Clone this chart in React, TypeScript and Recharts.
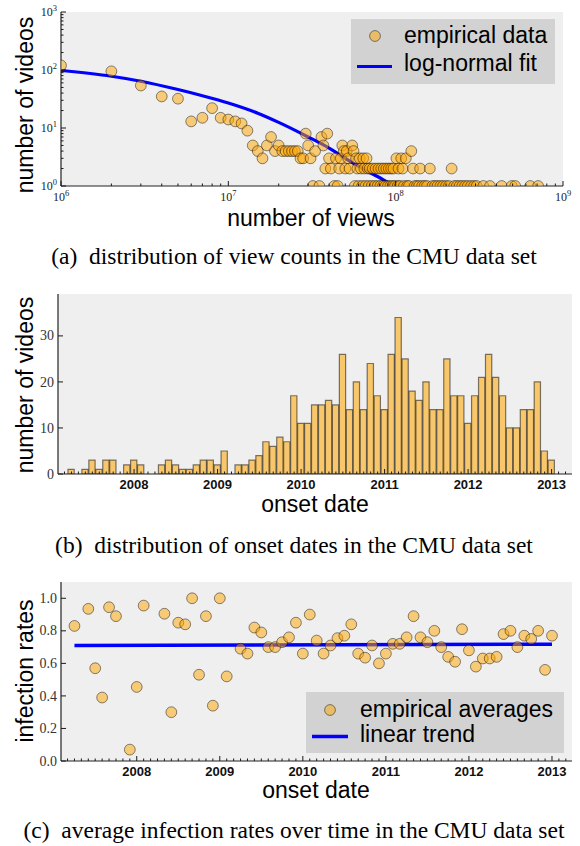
import React from 'react';
import { ComposedChart, Scatter, Line, Bar, XAxis, YAxis, CartesianGrid } from 'recharts';

// ---------------- (a) distribution of view counts ----------------
const viewBinsMillions = [
  1, 2, 3, 4, 5, 6, 7, 8, 9, 10, 11, 12, 13, 14, 15, 16, 17, 18, 19, 20,
  21, 22, 23, 24, 25, 26, 27, 28, 29, 30, 31, 32, 33, 35, 36, 37, 38, 39, 40, 41,
  43, 44, 45, 46, 47, 48, 49, 50, 51, 52, 53, 55, 56, 57, 58, 59, 60, 61, 62, 63,
  64, 65, 66, 67, 68, 69, 70, 72, 73, 75, 76, 78, 79, 81, 82, 84, 85, 87, 88, 90,
  91, 93, 94, 96, 97, 99, 101, 103, 104, 106, 108, 110, 112, 115, 117, 120, 124, 127, 130, 134,
  138, 140, 144, 149, 154, 160, 166, 172, 178, 185, 192, 200, 208, 216, 224, 232, 241, 250, 260, 270,
  282, 294, 305, 334, 366, 430, 494, 518, 637, 710,
];
const videosPerViewBin = [
  120, 95, 54, 35, 32, 13, 15, 22, 15, 14, 13, 12, 9, 5, 4, 3, 5, 7, 4, 5,
  4, 4, 4, 4, 4, 4, 3, 3, 8, 5, 3, 1, 4, 1, 7, 5, 2, 8, 3, 2,
  1, 3, 1, 2, 3, 5, 4, 2, 4, 3, 2, 5, 4, 1, 3, 2, 1, 3, 2, 1,
  3, 2, 1, 3, 2, 1, 2, 1, 2, 1, 2, 1, 2, 1, 2, 1, 2, 1, 2, 1,
  2, 1, 2, 1, 2, 1, 3, 1, 2, 1, 3, 2, 1, 3, 1, 1, 4, 2, 1, 1,
  1, 2, 1, 1, 1, 2, 1, 1, 1, 1, 1, 1, 1, 2, 1, 1, 1, 1, 1, 1,
  1, 1, 1, 1, 1, 1, 1, 1, 1, 1,
];
const fitViewsMillions = [1, 2, 3, 5, 7, 10, 15, 20, 30, 40, 50, 60, 70, 80, 90, 100];
const fitVideos = [98, 78, 64, 46, 36, 27, 18, 12.5, 7, 4.5, 3.0, 2.2, 1.7, 1.4, 1.15, 1.0];
const viewDecades = [6, 7, 8, 9];
const videoDecades = [0, 1, 2, 3];

// ---------------- (b) distribution of onset dates ----------------
const onsetMonths = [
  '2007-03', '2007-04', '2007-05', '2007-06', '2007-07', '2007-08', '2007-09', '2007-10', '2007-11', '2007-12',
  '2008-01', '2008-02', '2008-03', '2008-04', '2008-05', '2008-06', '2008-07', '2008-08', '2008-09', '2008-10', '2008-11', '2008-12',
  '2009-01', '2009-02', '2009-03', '2009-04', '2009-05', '2009-06', '2009-07', '2009-08', '2009-09', '2009-10', '2009-11', '2009-12',
  '2010-01', '2010-02', '2010-03', '2010-04', '2010-05', '2010-06', '2010-07', '2010-08', '2010-09', '2010-10', '2010-11', '2010-12',
  '2011-01', '2011-02', '2011-03', '2011-04', '2011-05', '2011-06', '2011-07', '2011-08', '2011-09', '2011-10', '2011-11', '2011-12',
  '2012-01', '2012-02', '2012-03', '2012-04', '2012-05', '2012-06', '2012-07', '2012-08', '2012-09', '2012-10', '2012-11', '2012-12',
  '2013-01', '2013-02', '2013-03',
];
const videosPerMonth = [
  0, 1, 0, 1, 3, 1, 3, 3, 0, 2,
  3, 2, 0, 0, 2, 3, 2, 1, 1, 2, 3, 3,
  2, 5, 0, 2, 2, 3, 4, 7, 6, 8, 7, 17,
  11, 11, 15, 15, 16, 15, 26, 14, 20, 14, 24, 17,
  14, 26, 34, 25, 18, 16, 20, 14, 14, 25, 17, 17,
  11, 17, 21, 26, 21, 17, 10, 10, 14, 14, 20, 5,
  3, 0, 0,
];
const countTicks = [0, 10, 20, 30];

// ---------------- (c) average infection rates ----------------
const rateMonths = [
  '2007-04', '2007-06', '2007-07', '2007-08', '2007-09', '2007-10', '2007-12',
  '2008-01', '2008-02', '2008-05', '2008-06', '2008-07', '2008-08', '2008-09', '2008-10', '2008-11', '2008-12',
  '2009-01', '2009-02', '2009-04', '2009-05', '2009-06', '2009-07', '2009-08', '2009-09', '2009-10', '2009-11', '2009-12',
  '2010-01', '2010-02', '2010-03', '2010-04', '2010-05', '2010-06', '2010-07', '2010-08', '2010-09', '2010-10', '2010-11', '2010-12',
  '2011-01', '2011-02', '2011-03', '2011-04', '2011-05', '2011-06', '2011-07', '2011-08', '2011-09', '2011-10', '2011-11', '2011-12',
  '2012-01', '2012-02', '2012-03', '2012-04', '2012-05', '2012-06', '2012-07', '2012-08', '2012-09', '2012-10', '2012-11', '2012-12',
  '2013-01',
];
const infectionRates = [
  0.83, 0.935, 0.57, 0.39, 0.945, 0.89, 0.07,
  0.455, 0.955, 0.905, 0.30, 0.85, 0.84, 1.0, 0.53, 0.89, 0.34,
  1.0, 0.52, 0.69, 0.66, 0.82, 0.79, 0.70, 0.70, 0.73, 0.76, 0.85,
  0.66, 0.90, 0.74, 0.66, 0.71, 0.755, 0.77, 0.84, 0.66, 0.635, 0.71, 0.60,
  0.66, 0.72, 0.72, 0.76, 0.89, 0.76, 0.73, 0.80, 0.70, 0.64, 0.61, 0.81,
  0.68, 0.58, 0.63, 0.63, 0.64, 0.78, 0.80, 0.70, 0.77, 0.75, 0.80, 0.56,
  0.77,
];
const trendMonths = ['2007-04', '2013-01'];
const trendRates = [0.71, 0.718];
const rateTicks = [0, 0.2, 0.4, 0.6, 0.8, 1.0];

// ---------------- helpers ----------------
const SANS = '"Liberation Sans", Arial, Helvetica, sans-serif';
const SERIF = '"Liberation Serif", "Times New Roman", serif';
const INK = '#1a1a1a';
const FRAME = { stroke: '#222', strokeWidth: 1.2 };
const BLUE = '#0000ff';

const toYear = (s: string) => {
  const [y, m] = s.split('-').map(Number);
  return y + (m - 1) / 12;
};

const logTicks = (decades: number[]) => {
  const out: number[] = [];
  for (let i = 0; i < decades.length - 1; i++) {
    for (let k = 1; k < 10; k++) out.push(k * Math.pow(10, decades[i]));
  }
  out.push(Math.pow(10, decades[decades.length - 1]));
  return out;
};
const isPow10 = (v: number) => {
  const e = Math.round(Math.log10(v));
  return Math.abs(v / Math.pow(10, e) - 1) < 1e-9;
};

const viewData = viewBinsMillions.map((m, i) => ({ views: m * 1e6, videos: videosPerViewBin[i] }));
const fitData = fitViewsMillions.map((m, i) => ({ views: m * 1e6, videos: fitVideos[i] }));
const viewTicks = logTicks(viewDecades);
const videoTicks = logTicks(videoDecades);

const onsetData = onsetMonths.map((m, i) => ({ month: m, videos: videosPerMonth[i] }));

const rateData = rateMonths.map((m, i) => ({ t: toYear(m), rate: infectionRates[i] }));
const trendData = trendMonths.map((m, i) => ({ t: toYear(m), rate: trendRates[i] }));
const monthTicks: number[] = [];
for (let i = 0; i <= 72; i++) {
  const n = 2 + i;
  monthTicks.push(2007 + Math.floor(n / 12) + (n % 12) / 12);
}
const isYear = (v: number) => Math.abs(v - Math.round(v)) < 1e-6;

const dotProps = { r: 5.4, fill: 'orange', fillOpacity: 0.5, stroke: '#000', strokeOpacity: 0.45, strokeWidth: 1 };
const Dot = (p: any) => <circle cx={p.cx} cy={p.cy} {...dotProps} />;
const ClippedDotA = (p: any) => <circle cx={p.cx} cy={p.cy} {...dotProps} clipPath="url(#plotClipA)" />;

// log axis ticks (a)
const LogXBottomTick = (p: any) => {
  const v = p.payload.value;
  const major = isPow10(v);
  const e = Math.round(Math.log10(v));
  return (
    <g>
      <line x1={p.x} x2={p.x} y1={p.y} y2={p.y - (major ? 5 : 2.5)} stroke={INK} strokeWidth={1} />
      {major && (
        <text x={p.x} y={p.y + 15} textAnchor="middle" fontFamily={SERIF} fontSize={12} fill="#222">
          10<tspan dy={-5} fontSize={8.5}>{e}</tspan>
        </text>
      )}
    </g>
  );
};
const LogXTopTick = (p: any) => {
  const major = isPow10(p.payload.value);
  return <line x1={p.x} x2={p.x} y1={p.y} y2={p.y + (major ? 5 : 2.5)} stroke={INK} strokeWidth={1} />;
};
const LogYLeftTick = (p: any) => {
  const v = p.payload.value;
  const major = isPow10(v);
  const e = Math.round(Math.log10(v));
  return (
    <g>
      <line x1={p.x} x2={p.x + (major ? 5 : 2.5)} y1={p.y} y2={p.y} stroke={INK} strokeWidth={1} />
      {major && (
        <text x={p.x - 4} y={p.y + 4} textAnchor="end" fontFamily={SERIF} fontSize={12} fill="#222">
          10<tspan dy={-5} fontSize={8.5}>{e}</tspan>
        </text>
      )}
    </g>
  );
};
const LogYRightTick = (p: any) => {
  const major = isPow10(p.payload.value);
  return <line x1={p.x} x2={p.x - (major ? 5 : 2.5)} y1={p.y} y2={p.y} stroke={INK} strokeWidth={1} />;
};

// month axis ticks (b)
const MonthBottomTick = (p: any) => {
  const [yr, mo] = String(p.payload.value).split('-');
  const major = mo === '01';
  return (
    <g>
      <line x1={p.x} x2={p.x} y1={p.y} y2={p.y - (major ? 5 : 2.5)} stroke={INK} strokeWidth={1} />
      {major && (
        <text x={p.x} y={p.y + 14.5} textAnchor="middle" fontFamily={SANS} fontWeight="bold" fontSize={13} fill="#111">
          {yr}
        </text>
      )}
    </g>
  );
};
const MonthTopTick = (p: any) => {
  const mo = String(p.payload.value).split('-')[1];
  const major = mo === '01';
  return <line x1={p.x} x2={p.x} y1={p.y} y2={p.y + (major ? 5 : 2.5)} stroke={INK} strokeWidth={1} />;
};

// year axis ticks (c)
const YearBottomTick = (p: any) => {
  const v = p.payload.value;
  const major = isYear(v);
  return (
    <g>
      <line x1={p.x} x2={p.x} y1={p.y} y2={p.y - (major ? 5 : 2.5)} stroke={INK} strokeWidth={1} />
      {major && (
        <text x={p.x} y={p.y + 14.5} textAnchor="middle" fontFamily={SANS} fontWeight="bold" fontSize={13} fill="#111">
          {String(Math.round(v))}
        </text>
      )}
    </g>
  );
};
const YearTopTick = (p: any) => {
  const major = isYear(p.payload.value);
  return <line x1={p.x} x2={p.x} y1={p.y} y2={p.y + (major ? 5 : 2.5)} stroke={INK} strokeWidth={1} />;
};

const makeLinLeftTick = (fmt: (v: number) => string) => (p: any) => (
  <g>
    <line x1={p.x} x2={p.x + 5} y1={p.y} y2={p.y} stroke={INK} strokeWidth={1} />
    <text x={p.x - 4} y={p.y + 4.6} textAnchor="end" fontFamily={SERIF} fontSize={14} fill="#333">
      {fmt(p.payload.value)}
    </text>
  </g>
);
const LinRightTick = (p: any) => (
  <line x1={p.x} x2={p.x - 5} y1={p.y} y2={p.y} stroke={INK} strokeWidth={1} />
);
const CountLeftTick = makeLinLeftTick((v) => String(v));
const RateLeftTick = makeLinLeftTick((v) => v.toFixed(1));

const axisCommon = { tickLine: false, tickSize: 0, tickMargin: 0, interval: 0 as const, axisLine: FRAME };

const titleStyle = { fontFamily: SANS, fontSize: 23, fill: '#000' };
const captionStyle = { fontFamily: SERIF, fontSize: 23.5, fill: '#000', whiteSpace: 'pre' as const };
const legendStyle = { fontFamily: SANS, fontSize: 23, fill: '#000' };

export default function App() {
  return (
    <div style={{ position: 'absolute', left: 0, top: 0, width: 580, height: 846, background: '#fff' }}>
      <svg width={0} height={0} style={{ position: 'absolute' }}>
        <defs>
          <clipPath id="plotClipA" clipPathUnits="userSpaceOnUse">
            <rect x={61} y={12} width={502} height={174} />
          </clipPath>
        </defs>
      </svg>

      {/* (a) */}
      <div style={{ position: 'absolute', left: 0, top: 0 }}>
        <ComposedChart width={580} height={240} margin={{ top: 12, right: 17, bottom: 0, left: 0 }}>
          <CartesianGrid fill="#efefef" stroke="none" horizontal={false} vertical={false} />
          <XAxis xAxisId="b" dataKey="views" type="number" scale="log" domain={[1e6, 1e9]} allowDataOverflow ticks={viewTicks} height={54} tick={LogXBottomTick} {...axisCommon} />
          <XAxis xAxisId="t" orientation="top" dataKey="views" type="number" scale="log" domain={[1e6, 1e9]} allowDataOverflow ticks={viewTicks} height={0} tick={LogXTopTick} {...axisCommon} />
          <YAxis yAxisId="l" dataKey="videos" type="number" scale="log" domain={[1, 1000]} allowDataOverflow ticks={videoTicks} width={61} tick={LogYLeftTick} {...axisCommon} />
          <YAxis yAxisId="r" orientation="right" dataKey="videos" type="number" scale="log" domain={[1, 1000]} allowDataOverflow ticks={videoTicks} width={0} tick={LogYRightTick} {...axisCommon} />
          <Scatter xAxisId="b" yAxisId="l" data={viewData} shape={ClippedDotA} isAnimationActive={false} />
          <Line xAxisId="b" yAxisId="l" data={fitData} dataKey="videos" type="monotone" stroke={BLUE} strokeWidth={3.2} dot={false} activeDot={false} isAnimationActive={false} />
        </ComposedChart>
      </div>

      {/* (b) */}
      <div style={{ position: 'absolute', left: 0, top: 280 }}>
        <ComposedChart width={580} height={240} data={onsetData} margin={{ top: 14, right: 8, bottom: 0, left: 0 }} barCategoryGap={0} barGap={0}>
          <CartesianGrid fill="#efefef" stroke="none" horizontal={false} vertical={false} />
          <XAxis xAxisId="b" dataKey="month" type="category" padding={{ left: 3, right: 3 }} height={46} tick={MonthBottomTick} {...axisCommon} />
          <XAxis xAxisId="t" orientation="top" dataKey="month" type="category" padding={{ left: 3, right: 3 }} height={0} tick={MonthTopTick} {...axisCommon} />
          <YAxis yAxisId="l" type="number" domain={[0, 39.1]} allowDataOverflow ticks={countTicks} width={58} tick={CountLeftTick} {...axisCommon} />
          <YAxis yAxisId="r" orientation="right" type="number" domain={[0, 39.1]} allowDataOverflow ticks={countTicks.slice(1)} width={0} tick={LinRightTick} {...axisCommon} />
          <Bar xAxisId="b" yAxisId="l" dataKey="videos" barSize={7} fill="orange" fillOpacity={0.55} stroke="#000" strokeOpacity={0.5} strokeWidth={1.2} isAnimationActive={false} />
        </ComposedChart>
      </div>

      {/* (c) */}
      <div style={{ position: 'absolute', left: 0, top: 565 }}>
        <ComposedChart width={580} height={235} margin={{ top: 17, right: 8, bottom: 0, left: 0 }}>
          <CartesianGrid fill="#efefef" stroke="none" horizontal={false} vertical={false} />
          <XAxis xAxisId="b" dataKey="t" type="number" domain={[2007.088, 2013.241]} allowDataOverflow ticks={monthTicks} height={39} tick={YearBottomTick} {...axisCommon} />
          <XAxis xAxisId="t" orientation="top" dataKey="t" type="number" domain={[2007.088, 2013.241]} allowDataOverflow ticks={monthTicks} height={0} tick={YearTopTick} {...axisCommon} />
          <YAxis yAxisId="l" dataKey="rate" type="number" domain={[0, 1.1]} allowDataOverflow ticks={rateTicks} width={61} tick={RateLeftTick} {...axisCommon} />
          <YAxis yAxisId="r" orientation="right" dataKey="rate" type="number" domain={[0, 1.1]} allowDataOverflow ticks={rateTicks.slice(1)} width={0} tick={LinRightTick} {...axisCommon} />
          <Scatter xAxisId="b" yAxisId="l" data={rateData} shape={Dot} isAnimationActive={false} />
          <Line xAxisId="b" yAxisId="l" data={trendData} dataKey="rate" type="linear" stroke={BLUE} strokeWidth={3.5} dot={false} activeDot={false} isAnimationActive={false} />
        </ComposedChart>
      </div>

      {/* titles, legends, captions */}
      <svg width={580} height={846} style={{ position: 'absolute', left: 0, top: 0, pointerEvents: 'none' }}>
        {/* (a) */}
        <text x={311} y={226} textAnchor="middle" style={titleStyle}>number of views</text>
        <text x={33} y={105} textAnchor="middle" transform="rotate(-90 33 105)" style={titleStyle}>number of videos</text>
        <rect x={351} y={19} width={204} height={65} fill="#d2d2d2" />
        <circle cx={375} cy={36} {...dotProps} />
        <text x={404} y={43} style={legendStyle}>empirical data</text>
        <line x1={357} x2={392} y1={66.5} y2={66.5} stroke={BLUE} strokeWidth={3} />
        <text x={404} y={71} style={legendStyle}>log-normal fit</text>
        <text x={294} y={264} textAnchor="middle" xmlSpace="preserve" style={captionStyle}>(a)  distribution of view counts in the CMU data set</text>

        {/* (b) */}
        <text x={315} y={512} textAnchor="middle" style={titleStyle}>onset date</text>
        <text x={33} y={385} textAnchor="middle" transform="rotate(-90 33 385)" style={titleStyle}>number of videos</text>
        <text x={294} y={553} textAnchor="middle" xmlSpace="preserve" style={captionStyle}>(b)  distribution of onset dates in the CMU data set</text>

        {/* (c) */}
        <text x={316} y={798} textAnchor="middle" style={titleStyle}>onset date</text>
        <text x={33} y={671} textAnchor="middle" transform="rotate(-90 33 671)" style={titleStyle}>infection rates</text>
        <rect x={306} y={692} width={258} height={61} fill="#d2d2d2" />
        <circle cx={330} cy={710} {...dotProps} />
        <text x={360} y={717} style={legendStyle}>empirical averages</text>
        <line x1={312} x2={348} y1={736.5} y2={736.5} stroke={BLUE} strokeWidth={3.5} />
        <text x={360} y={742} style={legendStyle}>linear trend</text>
        <text x={294} y={838} textAnchor="middle" xmlSpace="preserve" style={captionStyle}>(c)  average infection rates over time in the CMU data set</text>
      </svg>
    </div>
  );
}
